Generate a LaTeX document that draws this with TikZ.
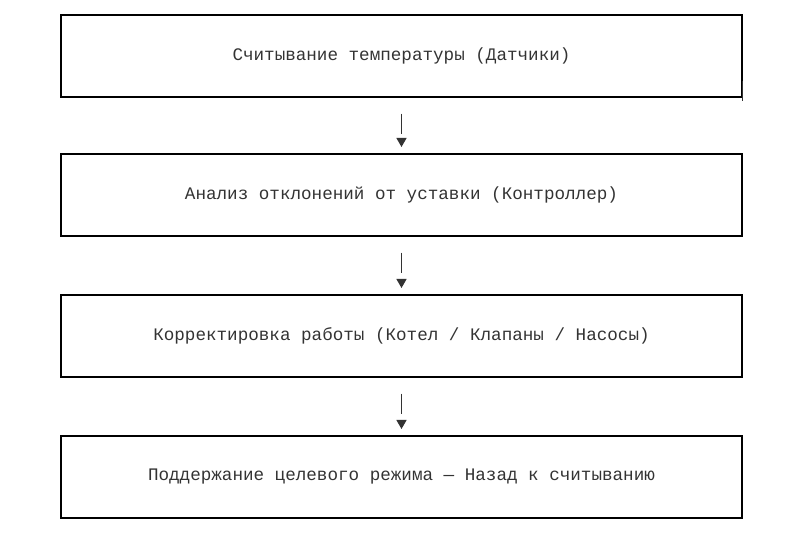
\documentclass[tikz,border=0pt]{standalone}
\usetikzlibrary{shapes.geometric}
\usepackage{fontspec}
\setmonofont{Liberation Mono}
\begin{document}
\begin{tikzpicture}[x=1pt,y=-1pt,
  stepbox/.style={draw=black,line width=1.3pt,minimum width=681pt,minimum height=82pt,inner sep=0pt,
    font=\ttfamily\fontsize{17.6}{20}\selectfont,text=black!80},
  conn/.style={draw=black!80,line width=1pt},
  tip/.style={fill=black!80,draw=none,regular polygon,regular polygon sides=3,shape border rotate=180,inner sep=0pt,minimum size=12pt}]
\useasboundingbox (0,0) rectangle (800,533);
\node[stepbox] (a) at (401.5,56) {Считывание температуры (Датчики)};
\node[stepbox] (b) at (401.5,195) {Анализ отклонений от уставки (Контроллер)};
\node[stepbox] (c) at (401.5,336) {Корректировка работы (Котел / Клапаны / Насосы)};
\node[stepbox] (d) at (401.5,477) {Поддержание целевого режима — Назад к считыванию};
\foreach \u/\v in {a/b,b/c,c/d}{
  \draw[conn] ([yshift=-16pt]\u.south) -- ([yshift=-36pt]\u.south);
  \node[tip,anchor=south] at ([yshift=6pt]\v.north) {};
}
\draw[conn] ([yshift=17pt]a.south east) -- ([yshift=-3pt]a.south east);
\end{tikzpicture}
\end{document}
